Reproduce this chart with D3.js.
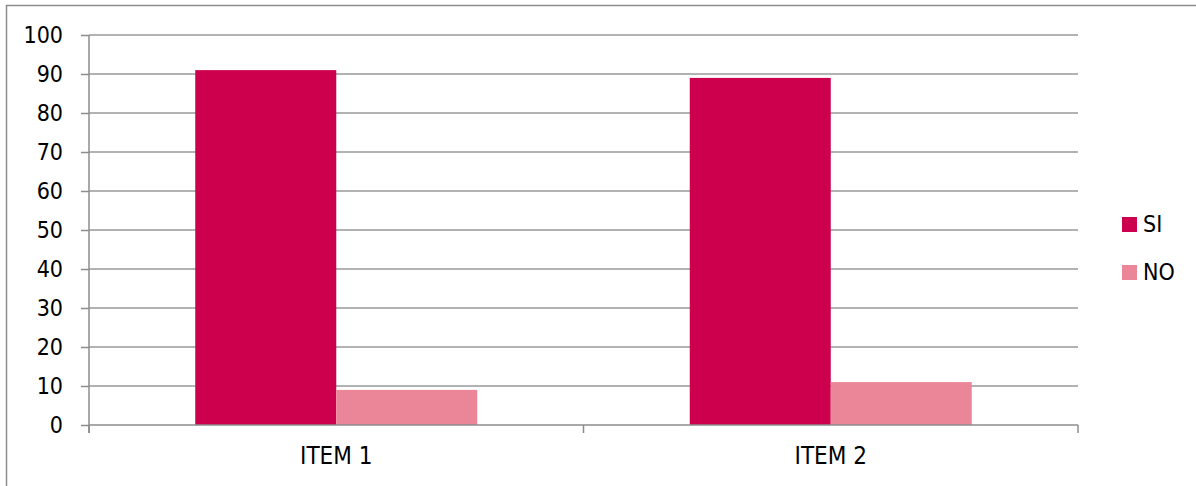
<!DOCTYPE html>
<html>
<head>
<meta charset="utf-8">
<script src="https://cdn.jsdelivr.net/npm/d3@7"></script>
<style>
  body { margin: 0; background: #fff; }
  svg { display: block; }
  text { font-family: "Liberation Sans Narrow", "Arial Narrow", "DejaVu Sans Condensed", sans-serif; fill: #000; }
</style>
</head>
<body>
<script>
const CATEGORIES = ["ITEM 1", "ITEM 2"]
const SERIES = ["SI", "NO"]
const SI_VALUES = [91, 89]
const NO_VALUES = [9, 11]
const Y_TICKS = [0, 10, 20, 30, 40, 50, 60, 70, 80, 90, 100]
const COLORS = ["#cc004c", "#eb8698"]

const m = { width: 1196, height: 486 }
const plot = { left: 89, right: 1078, top: 35, bottom: 425 }

const svg = d3.select("body").append("svg")
    .attr("width", m.width)
    .attr("height", m.height)

// outer chart frame
svg.append("rect")
    .attr("x", 6.5).attr("y", 5.5)
    .attr("width", 1300).attr("height", 600)
    .attr("fill", "none")
    .attr("stroke", "#8c8c8c")
    .attr("stroke-width", 1.5)

const y = d3.scaleLinear().domain([0, 100]).range([plot.bottom, plot.top])
const x = d3.scaleBand().domain(CATEGORIES).range([plot.left, plot.right])
const inner = d3.scaleBand().domain(SERIES).range([0, 282])

// gridlines
svg.append("g").selectAll("line")
  .data(Y_TICKS.filter(d => d > 0))
  .enter().append("line")
    .attr("x1", plot.left).attr("x2", plot.right)
    .attr("y1", d => y(d)).attr("y2", d => y(d))
    .attr("stroke", "#989898")
    .attr("stroke-width", 1.5)

// y axis
const yAxis = svg.append("g")
    .attr("transform", `translate(${plot.left},0)`)
    .call(d3.axisLeft(y).tickValues(Y_TICKS).tickSize(8).tickPadding(18))
yAxis.select(".domain").attr("stroke", "#8c8c8c").attr("stroke-width", 1.5)
    .attr("d", `M0,${plot.top}V${plot.bottom + 8}`)
yAxis.selectAll(".tick line").attr("stroke", "#8c8c8c").attr("stroke-width", 1.5)
yAxis.selectAll(".tick text").attr("font-size", 23).attr("fill", "#000")
    .style("font-family", null)

const data = CATEGORIES.map((c, i) => ({ cat: c, values: [SI_VALUES[i], NO_VALUES[i]] }))

// bars
const groups = svg.append("g").selectAll("g")
  .data(data)
  .enter().append("g")
    .attr("transform", d => `translate(${x(d.cat) + x.bandwidth() / 2 - 141},0)`)

groups.selectAll("rect")
  .data(d => d.values.map((v, j) => ({ s: SERIES[j], v: v })))
  .enter().append("rect")
    .attr("x", d => inner(d.s))
    .attr("width", inner.bandwidth())
    .attr("y", d => y(d.v))
    .attr("height", d => y(0) - y(d.v))
    .attr("fill", (d, j) => COLORS[j])

// x axis
const xAxis = svg.append("g")
    .attr("transform", `translate(0,${plot.bottom})`)
    .call(d3.axisBottom(x).tickSize(0).tickPadding(22))
xAxis.select(".domain").attr("stroke", "#8c8c8c").attr("stroke-width", 1.5)
    .attr("d", `M${plot.left},0H${plot.right}`)
xAxis.selectAll(".tick text").attr("font-size", 24).attr("fill", "#000")
    .style("font-family", null)
xAxis.append("g").selectAll("line")
  .data([plot.left, x(CATEGORIES[1]), plot.right])
  .enter().append("line")
    .attr("x1", d => d).attr("x2", d => d)
    .attr("y1", 0).attr("y2", 8)
    .attr("stroke", "#8c8c8c").attr("stroke-width", 1.5)

// legend
const legend = svg.append("g").selectAll("g")
  .data(SERIES)
  .enter().append("g")
    .attr("transform", (d, i) => `translate(1122,${217 + i * 48})`)
legend.append("rect")
    .attr("width", 15).attr("height", 15)
    .attr("fill", (d, i) => COLORS[i])
legend.append("text")
    .attr("x", 21).attr("y", 15)
    .attr("font-size", 23)
    .text(d => d)
</script>
</body>
</html>
